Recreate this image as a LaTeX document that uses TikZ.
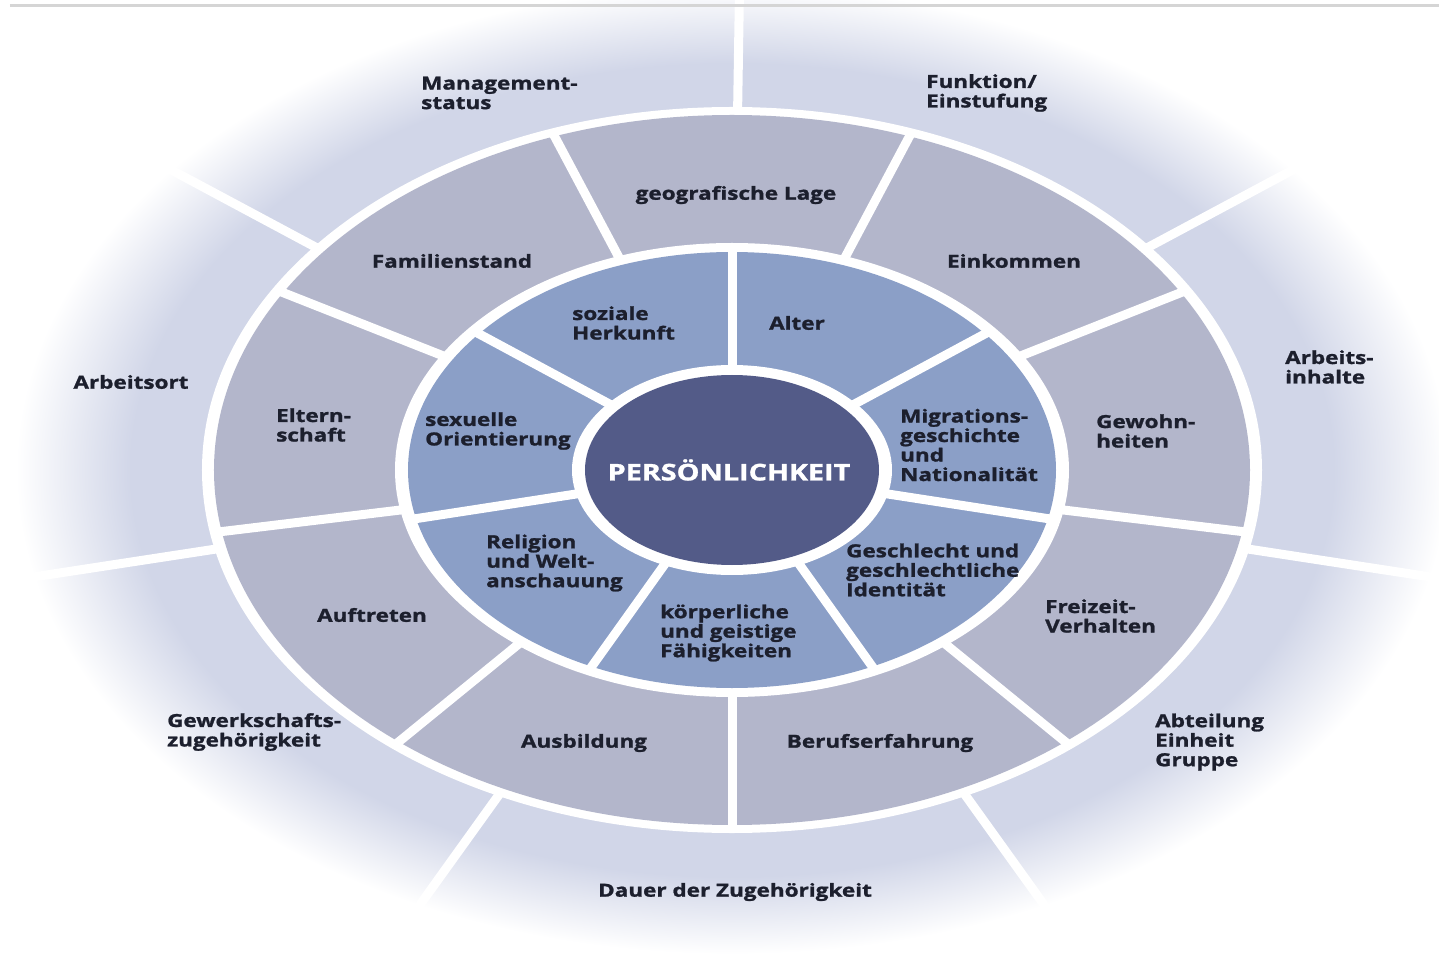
\documentclass[tikz,border=0pt]{standalone}
\usepackage{fontspec}
\setmainfont{Open Sans}[FakeStretch=1.25, BoldFeatures={FakeBold=1.3}]
\usetikzlibrary{calc}

\definecolor{coreC}{HTML}{535B88}
\definecolor{innerC}{HTML}{8B9FC7}
\definecolor{midC}{HTML}{B3B6CB}
\definecolor{outerC}{HTML}{D1D6E8}
\definecolor{txtC}{HTML}{1C1F2D}
\definecolor{ruleC}{HTML}{D5D5D5}

% light band that fades out to white towards its rim
\pgfdeclareradialshading{ringfade}{\pgfpoint{0bp}{0bp}}{%
  color(0bp)=(outerC); color(21bp)=(outerC); color(25bp)=(white); color(50bp)=(white)}

\tikzset{
  divider/.style={white, line width=9pt},
  lbl/.style={font=\fontsize{18}{19.5}\selectfont\bfseries, text=txtC,
              inner sep=0pt, align=left},
  lblw/.style={lbl, anchor=west},
  corelbl/.style={font=\fontsize{23}{26}\selectfont\bfseries, text=white, inner sep=0pt}
}

\begin{document}
\begin{tikzpicture}[x=1pt,y=1pt]
\useasboundingbox (-732,-488) rectangle (707,470);
\fill[white] (-732,-488) rectangle (707,470);

% outer band: 7 sectors
\shade[shading=ringfade] (0,0) ellipse [x radius=716, y radius=484];
\foreach \a in {89.4,38.571,-12.857,-64.286,-115.714,-167.143,141.429}
  \draw[divider] (0,0) -- (\a:760 and 510);

% rule along the top edge
\draw[ruleC, line width=3pt] (-722,464) -- (707,464);

% middle band: 9 sectors
\fill[white] (0,0) ellipse [x radius=530, y radius=363];
\fill[midC] (0,0) ellipse [x radius=518, y radius=355];
\foreach \a in {-90,-50,-10,30,70,110,150,190,230}
  \draw[divider] (0,0) -- (\a:526 and 360);

% inner band: 7 sectors
\fill[white] (0,0) ellipse [x radius=337, y radius=227];
\fill[innerC] (0,0) ellipse [x radius=324, y radius=218];
\foreach \a in {90,38.571,-12.857,-64.286,-115.714,-167.143,141.429}
  \draw[divider] (0,0) -- (\a:332 and 224);

% core
\fill[white] (0,0) ellipse [x radius=160, y radius=105];
\fill[coreC] (0,0) ellipse [x radius=147, y radius=95];
\node[corelbl] (core) at (-3,0) {PERSÖNLICHKEIT};

% outer band labels
\node[lblw] (mgmt) at (-311,377) {Management-\\status};
\node[lblw] (funk) at (194,377) {Funktion/\\Einstufung};
\node[lbl]  (ort) at (-601,88) {Arbeitsort};
\node[lblw] (inh) at (553,103) {Arbeits-\\inhalte};
\node[lblw] (gewerk) at (-565,-262) {Gewerkschafts-\\zugehörigkeit};
\node[lblw] (abt) at (423,-272) {Abteilung\\Einheit\\Gruppe};
\node[lbl]  (dauer) at (3,-422) {Dauer der Zugehörigkeit};

% middle band labels
\node[lbl]  (geo) at (4,275) {geografische Lage};
\node[lbl]  (fam) at (-280,209) {Familienstand};
\node[lbl]  (eink) at (282,209) {Einkommen};
\node[lblw] (elt) at (-456,45) {Eltern-\\schaft};
\node[lblw] (gew) at (364,39) {Gewohn-\\heiten};
\node[lbl]  (auft) at (-360,-145) {Auftreten};
\node[lblw] (freiz) at (313,-146) {Freizeit-\\Verhalten};
\node[lbl]  (ausb) at (-148,-273) {Ausbildung};
\node[lbl]  (beruf) at (148,-273) {Berufserfahrung};

% inner band labels
\node[lblw] (soz) at (-160,147) {soziale\\Herkunft};
\node[lbl]  (alter) at (65,147) {Alter};
\node[lblw] (sex) at (-307,39) {sexuelle\\Orientierung};
\node[lblw] (migr) at (168,25) {Migrations-\\geschichte\\und\\Nationalität};
\node[lblw] (rel) at (-246,-93) {Religion\\und Welt-\\anschauung};
\node[lblw] (geschl) at (114,-100) {Geschlecht und\\geschlechtliche\\Identität};
\node[lblw] (koerp) at (-72,-163) {körperliche\\und geistige\\Fähigkeiten};
\end{tikzpicture}
\end{document}
